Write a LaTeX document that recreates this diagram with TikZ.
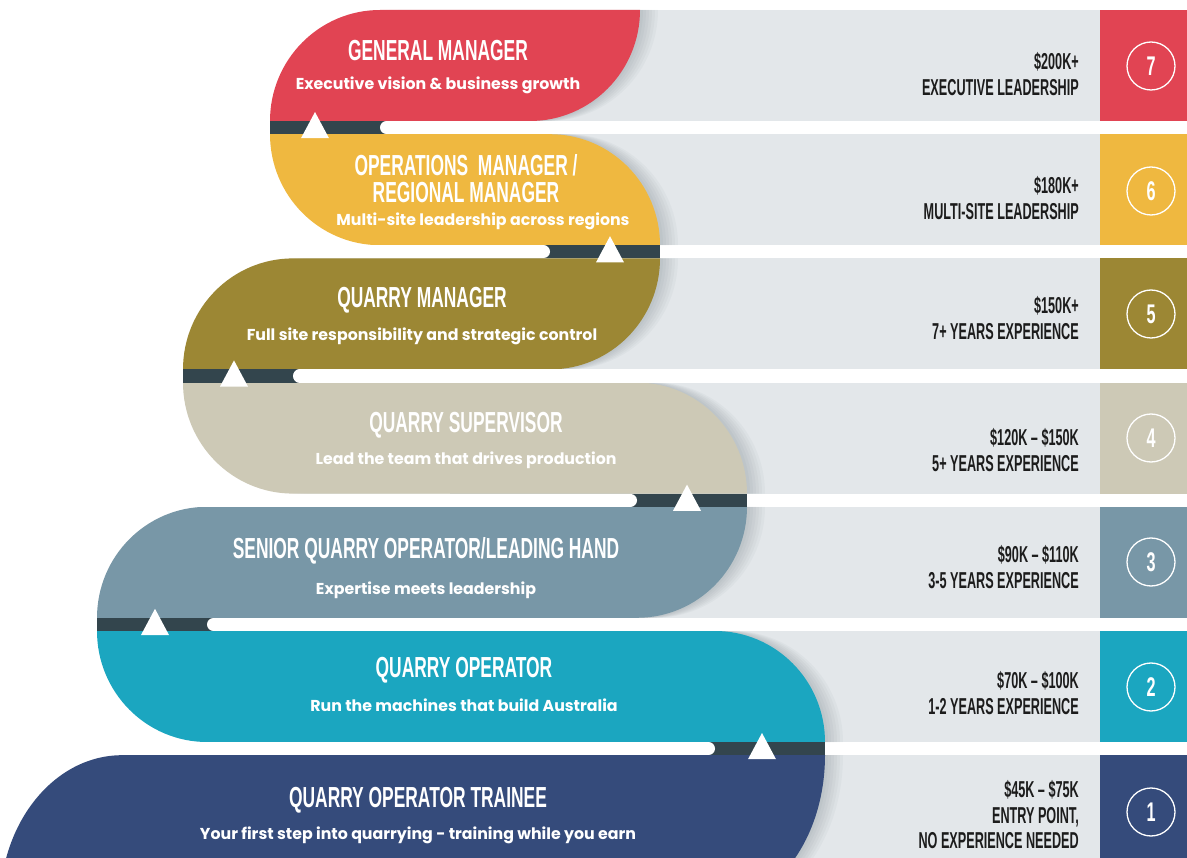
\documentclass[tikz,border=0pt]{standalone}
\usepackage{fontspec}
\setmainfont{Poppins}
\newfontfamily\headfont[FakeStretch=0.6]{Liberation Sans}
\newfontfamily\payfont[FakeStretch=0.55]{Liberation Sans}

\definecolor{gmred}{HTML}{E14453}
\definecolor{opsyellow}{HTML}{EFB840}
\definecolor{qmolive}{HTML}{9C8734}
\definecolor{supbeige}{HTML}{CDC9B6}
\definecolor{senslate}{HTML}{7897A7}
\definecolor{opteal}{HTML}{1BA6C0}
\definecolor{trnavy}{HTML}{354B7B}
\definecolor{bandgrey}{HTML}{E3E7EA}
\definecolor{roadgrey}{HTML}{33454D}
\definecolor{paytext}{HTML}{1C1C1C}

% one path per stage (pixel units, y pointing down)
\newcommand\gmshape{(270,121) arc[start angle=180,end angle=270] -- (640,10) arc[start angle=0,end angle=90] -- cycle}
\newcommand\opsshape{(270,134.2) -- (550,134.2) arc[start angle=270,end angle=360] -- (380,245.2) arc[start angle=90,end angle=180] -- cycle}
\newcommand\qmshape{(183,369.4) arc[start angle=180,end angle=270] -- (660,258.4) arc[start angle=0,end angle=90] -- cycle}
\newcommand\supshape{(183,382.6) -- (637,382.6) arc[start angle=270,end angle=360] -- (293,493.6) arc[start angle=90,end angle=180] -- cycle}
\newcommand\senshape{(97,617.8) arc[start angle=180,end angle=270] -- (747,506.8) arc[start angle=0,end angle=90] -- cycle}
\newcommand\oprshape{(97,631) -- (715,631) arc[start angle=270,end angle=360] -- (207,742) arc[start angle=90,end angle=180] -- cycle}
\newcommand\trnshape{(0,905.2) arc[start angle=180,end angle=270,x radius=122,y radius=150] -- (825,755.2) arc[start angle=0,end angle=90,x radius=110,y radius=150] -- cycle}

\tikzset{
  band/.style={fill=bandgrey},
  stageshadow/.style={fill=roadgrey,fill opacity=0.035},
  road/.style={fill=roadgrey},
  gapline/.style={draw=white,line width=13.2pt,line cap=round},
  tip/.style={fill=white},
  title/.style={text=white,font=\headfont\bfseries\fontsize{29}{27}\selectfont,align=center,inner sep=0pt},
  sub/.style={text=white,font=\bfseries\fontsize{15.8}{17}\selectfont,inner sep=0pt},
  pay/.style={text=paytext,font=\payfont\bfseries\fontsize{23}{25.5}\selectfont,align=right,anchor=east,inner sep=0pt},
  numring/.style={circle,draw=white,line width=1.3pt,minimum size=48pt,inner sep=0pt,text=white,font=\headfont\bfseries\fontsize{27}{27}\selectfont}
}

\begin{document}
\begin{tikzpicture}[x=1pt,y=-1pt,x radius=110,y radius=111]
\useasboundingbox (0,0) rectangle (1187,858);
\clip (0,0) rectangle (1187,858);

% grey bands and numbered end boxes
\foreach \ya/\yb/\col in {10/121/gmred, 134.2/245.2/opsyellow, 258.4/369.4/qmolive, 382.6/493.6/supbeige, 506.8/617.8/senslate, 631/742/opteal, 755.2/905.2/trnavy}{
  \fill[band] (450,\ya) rectangle (1100,\yb);
  \fill[\col] (1100,\ya) rectangle (1187,\yb);
}

% the stages, with a soft shadow on the right
\foreach \shape/\col in {\gmshape/gmred, \opsshape/opsyellow, \qmshape/qmolive, \supshape/supbeige, \senshape/senslate, \oprshape/opteal, \trnshape/trnavy}{
  \foreach \s in {3,6,...,18}
    \fill[stageshadow,xshift=\s] \shape;
  \fill[\col] \shape;
}

% road between the stages
\foreach \xa/\xb/\yg/\xt/\wa/\wb in {270/390/121/315/386.6/1187, 540/660/245.2/610/0/543.4, 183/303/369.4/234/299.6/1187, 627/747/493.6/687/0/630.4, 97/217/617.8/155/213.6/1187, 705/825/742/762/0/708.4}{
  \fill[road] (\xa,\yg) rectangle (\xb,\yg+13.2);
  \draw[gapline] (\wa,\yg+6.6) -- (\wb,\yg+6.6);
  \fill[tip] (\xt,\yg-9) -- (\xt+14,\yg+17.2) -- (\xt-14,\yg+17.2) -- cycle;
}

\node[title] (gm) at (438,51) {GENERAL MANAGER};
\node[sub] (gmsub) at (438,85) {Executive vision \& business growth};
\node[title] (ops) at (466,179) {OPERATIONS\ \ MANAGER /\\REGIONAL MANAGER};
\node[sub] (opssub) at (483,221) {Multi-site leadership across regions};
\node[title] (qm) at (422,300) {QUARRY MANAGER};
\node[sub] (qmsub) at (422,336) {Full site responsibility and strategic control};
\node[title] (sup) at (466,425) {QUARRY SUPERVISOR};
\node[sub] (supsub) at (466,460) {Lead the team that drives production};
\node[title] (sen) at (426,551) {SENIOR QUARRY OPERATOR/LEADING HAND};
\node[sub] (sensub) at (426,590) {Expertise meets leadership};
\node[title] (opr) at (464,670) {QUARRY OPERATOR};
\node[sub] (oprsub) at (464,705) {Run the machines that build Australia};
\node[title] (trn) at (418,800) {QUARRY OPERATOR TRAINEE};
\node[sub] (trnsub) at (418,835) {Your first step into quarrying - training while you earn};

\node[pay] (gmpay) at (1079,74) {\$200K+\\EXECUTIVE LEADERSHIP};
\node[pay] (opspay) at (1079,198) {\$180K+\\MULTI-SITE LEADERSHIP};
\node[pay] (qmpay) at (1079,318) {\$150K+\\7+ YEARS EXPERIENCE};
\node[pay] (suppay) at (1079,450) {\$120K – \$150K\\5+ YEARS EXPERIENCE};
\node[pay] (senpay) at (1079,567) {\$90K – \$110K\\3-5 YEARS EXPERIENCE};
\node[pay] (oprpay) at (1079,693) {\$70K – \$100K\\1-2 YEARS EXPERIENCE};
\node[pay] (trnpay) at (1079,815) {\$45K – \$75K\\ENTRY POINT,\\NO EXPERIENCE NEEDED};

\node[numring] (n7) at (1151,66) {7};
\node[numring] (n6) at (1151,191) {6};
\node[numring] (n5) at (1151,314) {5};
\node[numring] (n4) at (1151,438) {4};
\node[numring] (n3) at (1151,562) {3};
\node[numring] (n2) at (1151,687) {2};
\node[numring] (n1) at (1151,812) {1};
\end{tikzpicture}
\end{document}
